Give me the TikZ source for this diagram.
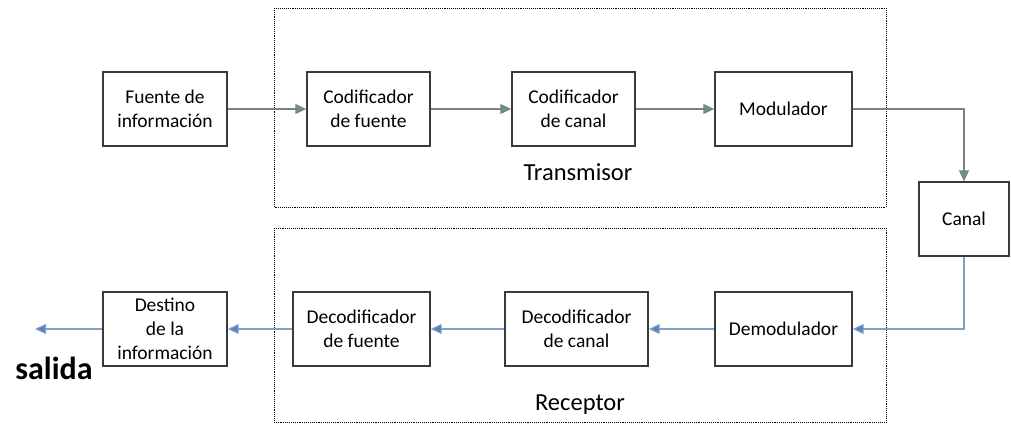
\documentclass[tikz,border=0pt]{standalone}
\usepackage{fontspec}
\setmainfont{Carlito}
\usetikzlibrary{arrows.meta}
\definecolor{boxline}{HTML}{3A3A3A}
\definecolor{topline}{HTML}{808080}
\definecolor{toptip}{HTML}{6A8E99}
\definecolor{botline}{HTML}{7FA3C8}
\definecolor{bottip}{HTML}{5A82B8}
\tikzset{
  blk/.style={draw=boxline, line width=1.4pt, minimum height=74pt, align=center, inner sep=1pt,
    font=\fontsize{19.5}{24}\selectfont},
  grp/.style={draw=black, line width=0.9pt, densely dotted},
  tarr/.style={draw=topline, line width=1.1pt, -{Triangle[length=11pt,width=10pt,fill=toptip]}},
  barr/.style={draw=botline, line width=1.1pt, -{Triangle[length=11pt,width=10pt,fill=bottip]}},
  glabel/.style={font=\fontsize{24.5}{28}\selectfont},
}
\begin{document}
\begin{tikzpicture}[x=1pt,y=-1pt]
\useasboundingbox (0,0) rectangle (1011,427);
% group frames
\draw[grp] (274,8) rectangle (886,207);
\draw[grp] (274,228) rectangle (886,422);
\node[glabel] (tx) at (578,172) {Transmisor};
\node[glabel] (rx) at (580,405) {Receptor};
% top row
\node[blk, minimum width=124pt] (fuente) at (165,109) {Fuente de\\información};
\node[blk, minimum width=123pt] (codf) at (368.5,109) {Codificador\\de fuente};
\node[blk, minimum width=123pt] (codc) at (573.5,109) {Codificador\\de canal};
\node[blk, minimum width=137pt] (mod) at (783.5,109) {Modulador};
% canal
\node[blk, minimum width=90pt, minimum height=74pt] (canal) at (964,219) {Canal};
% bottom row
\node[blk, minimum width=124pt] (dest) at (165,329) {Destino\\de la\\información};
\node[blk, minimum width=137pt] (decf) at (361.5,329) {Decodificador\\de fuente};
\node[blk, minimum width=143pt] (decc) at (576.5,329) {Decodificador\\de canal};
\node[blk, minimum width=137pt] (demod) at (783.5,329) {Demodulador};
\coordinate (out) at (35,329);
\node[font=\fontsize{32}{36}\selectfont\bfseries] (salida) at (54,368) {salida};
% connectors
\draw[tarr] (fuente) -- (codf);
\draw[tarr] (codf) -- (codc);
\draw[tarr] (codc) -- (mod);
\draw[tarr] (mod.east) -| (canal.north);
\draw[barr] (canal.south) |- (demod.east);
\draw[barr] (demod) -- (decc);
\draw[barr] (decc) -- (decf);
\draw[barr] (decf) -- (dest);
\draw[barr] (dest) -- (out);
\end{tikzpicture}
\end{document}
